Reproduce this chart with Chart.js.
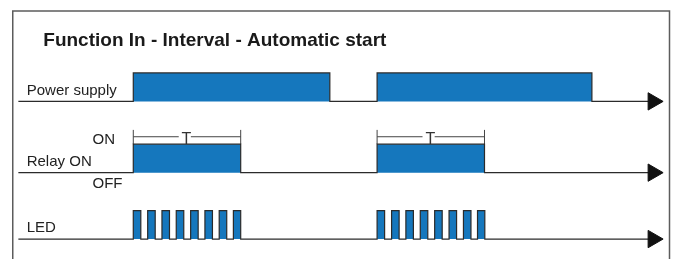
<!DOCTYPE html>
<html>
<head>
<meta charset="utf-8">
<script src="https://cdn.jsdelivr.net/npm/chart.js@4/dist/chart.umd.min.js"></script>
<style>
  html, body { margin: 0; padding: 0; background: #ffffff; }
  #wrap { width: 676px; height: 259px; position: relative; }
</style>
</head>
<body>
<div id="wrap"><canvas id="c" width="676" height="259"></canvas></div>
<script>
// ---- Data (time in units where T = 10) ----
const titleText = 'Function In - Interval - Automatic start';
const rowLabels = ['Power supply', 'Relay ON', 'LED'];
const stateLabels = ['ON', 'OFF'];
const timerLabel = 'T';

const powerOn  = [0, 22.7];
const powerOff = [18.3, 42.7];

const relayOn  = [0, 22.7];
const relayOff = [10, 32.7];

const ledOn  = [0, 1.34, 2.67, 4.0, 5.34, 6.67, 8.0, 9.32,
                22.7, 24.05, 25.38, 26.72, 28.06, 29.4, 30.74, 32.05];
const ledOff = [0.7, 2.04, 3.37, 4.7, 6.04, 7.37, 8.7, 10.0,
                23.4, 24.75, 26.08, 27.42, 28.76, 30.1, 31.44, 32.73];

const timerStart = [0, 22.7];
const timerEnd   = [10, 32.7];

const axisStart = -10.7;   // time where the time lines begin
const axisEnd   = 48.4;    // time where the arrows sit

// ---- Layout (not data) ----
const ROW_BASE = { power: 5.53, relay: 3.03, led: 0.70 };
const HIGH = 1;
const BLUE = '#1577bd';
const EDGE = '#2b2b2b';
const FONT = '"Liberation Sans", Arial, Helvetica, sans-serif';

function buildRow(ons, offs, base) {
  const pts = [{ x: axisStart, y: base }];
  for (let i = 0; i < ons.length; i++) {
    pts.push({ x: ons[i], y: base });
    pts.push({ x: ons[i], y: base + HIGH });
    pts.push({ x: offs[i], y: base + HIGH });
    pts.push({ x: offs[i], y: base });
  }
  pts.push({ x: axisEnd, y: base });
  return pts;
}

function rowDataset(ons, offs, base) {
  return {
    data: buildRow(ons, offs, base),
    showLine: true,
    borderColor: EDGE,
    borderWidth: 1.2,
    backgroundColor: BLUE,
    fill: { value: base },
    tension: 0,
    borderJoinStyle: 'miter',
    pointStyle: 'triangle',
    rotation: 90,
    pointBackgroundColor: '#111',
    pointBorderColor: '#111',
    pointBorderWidth: 1,
    pointRadius: c => (c.dataIndex === c.dataset.data.length - 1 ? 10 : 0),
    pointHoverRadius: 0,
    pointHitRadius: 0
  };
}

// dimension marker datasets for T
const TOP_RELAY = ROW_BASE.relay + HIGH;
const DIM_TICK = 0.5;
const DIM_LINE = 0.26;
const T_GAP_L = 0.77;
const T_GAP_R = 0.36;
const dimData = [];
for (let i = 0; i < timerStart.length; i++) {
  const a = timerStart[i], b = timerEnd[i], m = (a + b) / 2;
  dimData.push({ x: a, y: TOP_RELAY }, { x: a, y: TOP_RELAY + DIM_TICK }, { x: NaN, y: null });
  dimData.push({ x: b, y: TOP_RELAY }, { x: b, y: TOP_RELAY + DIM_TICK }, { x: NaN, y: null });
  dimData.push({ x: a, y: TOP_RELAY + DIM_LINE }, { x: m - T_GAP_L, y: TOP_RELAY + DIM_LINE }, { x: NaN, y: null });
  dimData.push({ x: m + T_GAP_R, y: TOP_RELAY + DIM_LINE }, { x: b, y: TOP_RELAY + DIM_LINE }, { x: NaN, y: null });
}

const textPlugin = {
  id: 'texts',
  beforeDraw(chart) {
    const ctx = chart.ctx;
    ctx.save();
    ctx.fillStyle = '#fff';
    ctx.fillRect(0, 0, chart.width, chart.height);
    ctx.restore();
  },
  afterDatasetsDraw(chart) {
    const ctx = chart.ctx;
    const x = chart.scales.x, y = chart.scales.y;
    ctx.save();
    // frame
    ctx.strokeStyle = '#5c5c5c';
    ctx.lineWidth = 1.5;
    ctx.beginPath();
    ctx.moveTo(12.75, chart.height + 2);
    ctx.lineTo(12.75, 11);
    ctx.lineTo(669.5, 11);
    ctx.lineTo(669.5, chart.height + 2);
    ctx.stroke();

    // title
    ctx.fillStyle = '#1a1a1a';
    ctx.textBaseline = 'alphabetic';
    ctx.textAlign = 'left';
    ctx.font = 'bold 19px ' + FONT;
    ctx.fillText(titleText, 43.3, 45.8);

    ctx.font = '15px ' + FONT;
    ctx.fillStyle = '#222';
    ctx.fillText(rowLabels[0], 26.7, y.getPixelForValue(ROW_BASE.power) - 6.8);
    ctx.fillText(rowLabels[1], 26.7, y.getPixelForValue(ROW_BASE.relay) - 7);
    ctx.fillText(rowLabels[2], 26.7, y.getPixelForValue(ROW_BASE.led) - 6.7);
    ctx.fillText(stateLabels[0], 92.5, y.getPixelForValue(TOP_RELAY) - 0.5);
    ctx.fillText(stateLabels[1], 92.5, y.getPixelForValue(ROW_BASE.relay) + 15.5);

    ctx.font = '16px ' + FONT;
    ctx.textAlign = 'center';
    ctx.fillStyle = '#333';
    for (let i = 0; i < timerStart.length; i++) {
      const m = (timerStart[i] + timerEnd[i]) / 2;
      ctx.fillText(timerLabel, x.getPixelForValue(m) - 0.5, y.getPixelForValue(TOP_RELAY) + 0.3);
    }
    ctx.restore();
  }
};

new Chart(document.getElementById('c'), {
  type: 'scatter',
  data: {
    datasets: [
      rowDataset(powerOn, powerOff, ROW_BASE.power),
      rowDataset(relayOn, relayOff, ROW_BASE.relay),
      rowDataset(ledOn, ledOff, ROW_BASE.led),
      {
        data: dimData,
        showLine: true,
        spanGaps: false,
        borderColor: '#444',
        borderWidth: 1,
        pointRadius: 0,
        pointHitRadius: 0,
        fill: false
      }
    ]
  },
  options: {
    responsive: false,
    animation: false,
    devicePixelRatio: 1,
    layout: { padding: 0, autoPadding: false },
    plugins: { legend: { display: false }, tooltip: { enabled: false }, title: { display: false } },
    events: [],
    scales: {
      x: { type: 'linear', display: false, min: -12.41, max: 50.53 },
      y: { type: 'linear', display: false, min: 0, max: 9.088 }
    }
  },
  plugins: [textPlugin]
});
</script>
</body>
</html>
